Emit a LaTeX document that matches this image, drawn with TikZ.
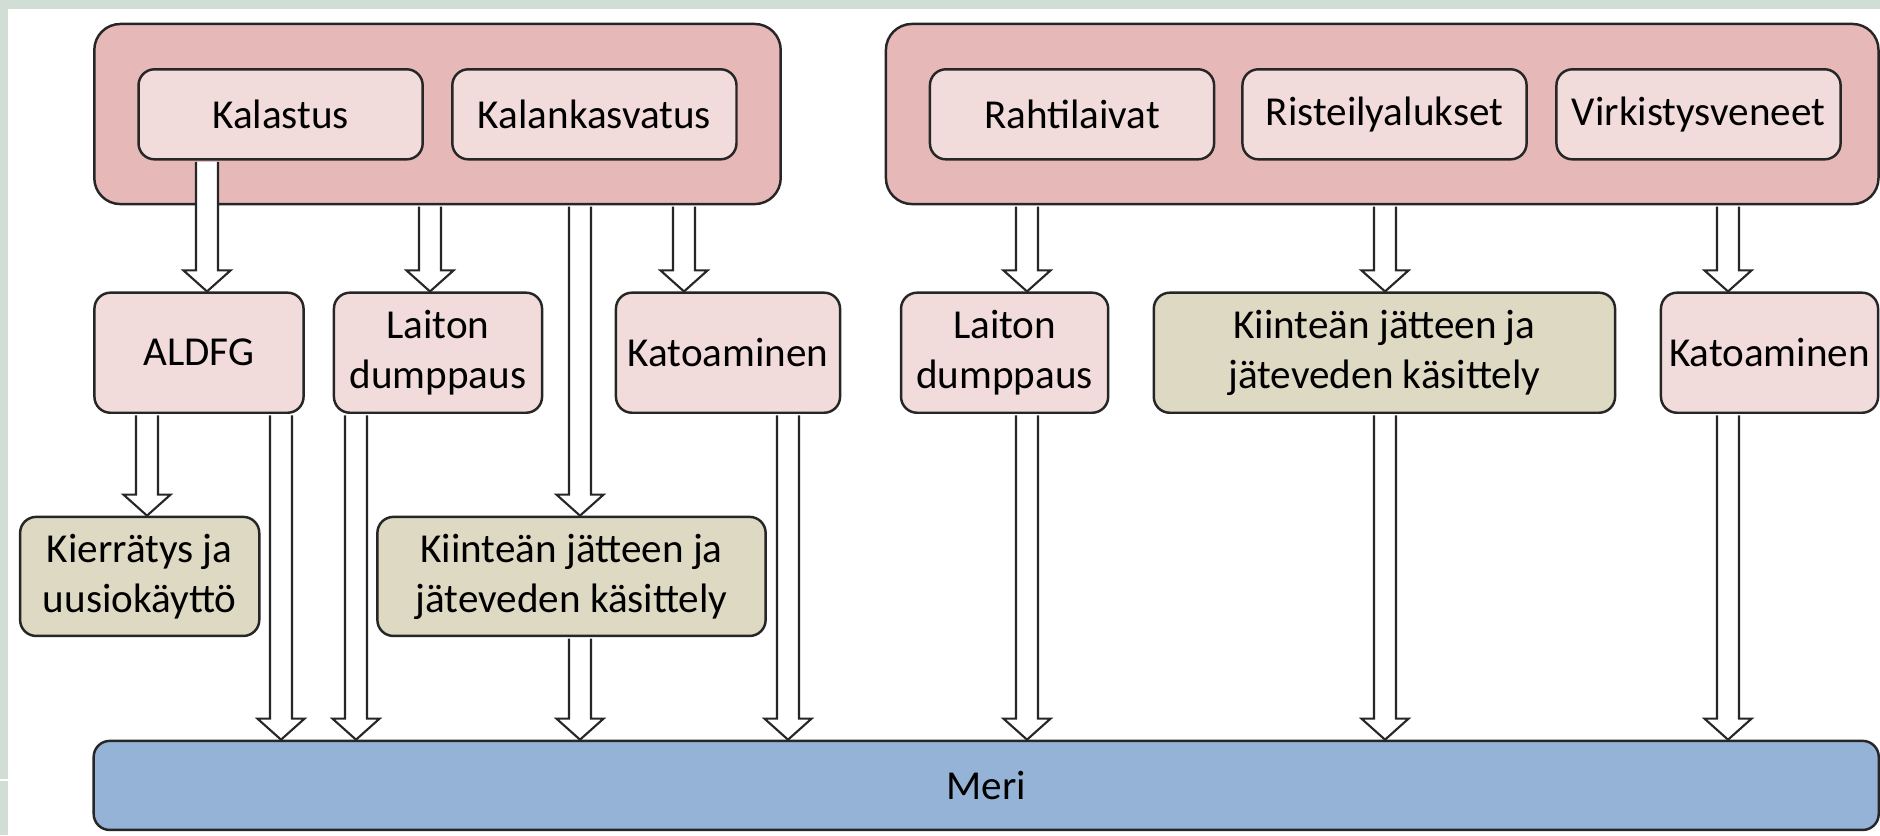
\documentclass[tikz,border=0pt]{standalone}
\usepackage{fontspec}
\setmainfont{Carlito}
\usetikzlibrary{calc}
\definecolor{grpred}{HTML}{E6B9B8}
\definecolor{boxpink}{HTML}{F2DCDB}
\definecolor{boxtan}{HTML}{DDD9C3}
\definecolor{meriblue}{HTML}{95B3D7}
\definecolor{slideband}{HTML}{D1DED6}

\begin{document}
\begin{tikzpicture}[x=0.01cm,y=-0.01cm,
    box/.style={draw=black!85,line width=0.7pt,rounded corners=0.16cm,inner sep=0pt,align=center,font=\fontsize{11.7}{14.2}\selectfont},
    groupbox/.style={box,fill=grpred,rounded corners=0.26cm,minimum height=1.8cm},
    sourcebox/.style={box,fill=boxpink,minimum width=2.84cm,minimum height=0.9cm},
    routebox/.style={box,fill=boxpink,minimum height=1.2cm},
    treatbox/.style={box,fill=boxtan},
    seabox/.style={box,fill=meriblue,minimum height=0.89cm},
    blockarrow/.style={draw=black!85,fill=white,line width=0.6pt,line join=miter}]

            \useasboundingbox (0,0) rectangle (1880,835);
            \fill[white] (0,0) rectangle (1880,835);
            \fill[slideband] (0,0) rectangle (1880,8.5);
            \fill[slideband] (0,0) rectangle (7.5,835);
            \draw[white,line width=0.4pt] (0,780) -- (7.5,780);

            \node (grpA) at (437.5,114) [groupbox,minimum width=6.86cm] {};
            \node (grpB) at (1382.2,114) [groupbox,minimum width=9.92cm] {};

            \node (kal) at (280.6,114.3) [sourcebox] {Kalastus};
            \node (kalk) at (594.4,114.3) [sourcebox] {Kalankasvatus};
            \node (raht) at (1072,114.3) [sourcebox] {Rahtilaivat};
            \node (rist) at (1384.5,114.3) [sourcebox] {Risteilyalukset};
            \node (virk) at (1698.5,114.3) [sourcebox] {Virkistysveneet};

            \node (aldfg) at (199,352.7) [routebox,minimum width=2.09cm] {ALDFG};
            \node (laitA) at (438,352.7) [routebox,minimum width=2.08cm] {Laiton\\dumppaus};
            \node (katoA) at (728,352.7) [routebox,minimum width=2.24cm] {Katoaminen};
            \node (laitB) at (1004.6,352.7) [routebox,minimum width=2.07cm] {Laiton\\dumppaus};
            \node (kiinB) at (1384.4,352.7) [routebox,treatbox,minimum width=4.61cm] {Kiinteän jätteen ja\\jäteveden käsittely};
            \node (katoB) at (1769.5,352.7) [routebox,minimum width=2.17cm] {Katoaminen};

            \node (kier) at (139.7,576.4) [treatbox,minimum width=2.39cm,minimum height=1.19cm] {Kierrätys ja\\uusiokäyttö};
            \node (kiinA) at (571.5,576.4) [treatbox,minimum width=3.88cm,minimum height=1.19cm] {Kiinteän jätteen ja\\jäteveden käsittely};

            \node (meri) at (986.2,785.4) [seabox,minimum width=17.84cm] {Meri};

            \foreach \xpos/\src/\dst in {207/kal/aldfg,430/grpA/laitA,580/grpA/kiinA,684/grpA/katoA,
                1027/grpB/laitB,1385/grpB/kiinB,1728/grpB/katoB,147/aldfg/kier,281/aldfg/meri,
                356/laitA/meri,580/kiinA/meri,788/katoA/meri,1027/laitB/meri,1385/kiinB/meri,1728/katoB/meri} {
                \draw[blockarrow] let \p1=(\xpos,0 |- \src.south), \p2=(\xpos,0 |- \dst.north) in
                    (\x1-0.11cm,\y1-0.4pt) -- (\x1-0.11cm,\y2+0.21cm) -- (\x1-0.235cm,\y2+0.21cm) -- (\p2)
                    -- (\x1+0.235cm,\y2+0.21cm) -- (\x1+0.11cm,\y2+0.21cm) -- (\x1+0.11cm,\y1-0.4pt);
            }

        \end{tikzpicture}
\end{document}
